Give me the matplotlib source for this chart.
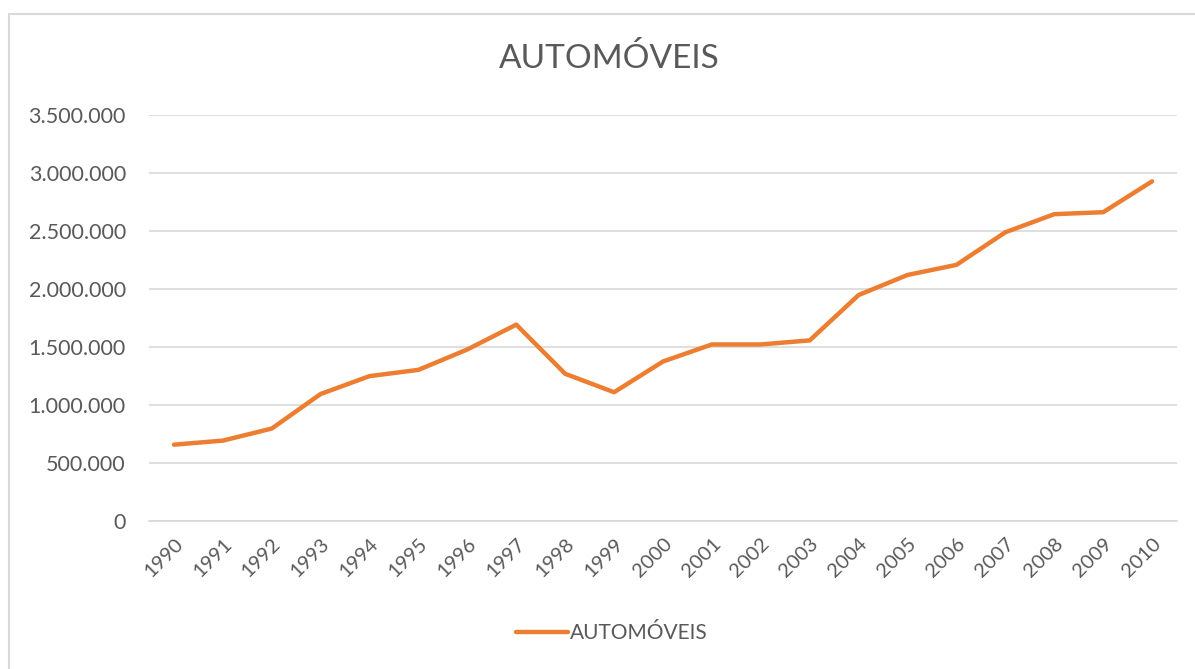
import matplotlib
matplotlib.use("Agg")
import matplotlib.pyplot as plt
from matplotlib.ticker import FuncFormatter
from matplotlib.patches import Rectangle

years = ["1990", "1991", "1992", "1993", "1994", "1995", "1996", "1997", "1998", "1999",
         "2000", "2001", "2002", "2003", "2004", "2005", "2006", "2007", "2008", "2009", "2010"]
automoveis = [658000, 693000, 797000, 1095000, 1249000, 1303000, 1479000, 1693000, 1269000, 1110000,
              1375000, 1522000, 1522000, 1557000, 1948000, 2121000, 2208000, 2489000, 2645000, 2662000, 2928000]
y_ticks = [0, 500000, 1000000, 1500000, 2000000, 2500000, 3000000, 3500000]

plt.rcParams['font.family'] = ['Lato', 'DejaVu Sans']
TEXT = '#595959'
GRID = '#D9D9D9'
ORANGE = '#ED7D31'

fig = plt.figure(figsize=(11.95, 6.69), dpi=100)
ax = fig.add_axes([149.5 / 1195, 1 - 521 / 669, (1176.5 - 149.5) / 1195, (521 - 115) / 669])

x = list(range(len(years)))
line, = ax.plot(x, automoveis, color=ORANGE, linewidth=3.2, solid_joinstyle='round',
                solid_capstyle='round', label='AUTOMÓVEIS')

ax.set_xlim(-0.5, len(years) - 0.5)
ax.set_ylim(0, 3500000)
ax.set_yticks(y_ticks)
ax.yaxis.set_major_formatter(FuncFormatter(lambda v, p: f"{int(v):,}".replace(",", ".")))
ax.grid(axis='y', color=GRID, linewidth=1.2)
ax.set_axisbelow(True)
for s in ['top', 'right', 'left']:
    ax.spines[s].set_visible(False)
ax.spines['bottom'].set_color(GRID)
ax.spines['bottom'].set_linewidth(1.2)
ax.tick_params(axis='both', length=0, colors=TEXT)
ax.tick_params(axis='y', pad=17, labelsize=15.5)
ax.set_xticks(x)
ax.set_xticklabels(years, rotation=45, ha='right', rotation_mode='anchor')
ax.tick_params(axis='x', pad=10, labelsize=14.5)

fig.text(609 / 1195, 1 - 59 / 669, 'AUTOMÓVEIS', ha='center', va='center',
         fontsize=24, color=TEXT)

leg = fig.legend(handles=[line], loc='center', bbox_to_anchor=(612 / 1195, 1 - 633 / 669),
                 frameon=False, fontsize=15, handlelength=2.5, handletextpad=0.1)
for t in leg.get_texts():
    t.set_color(TEXT)

fig.patches.append(Rectangle((9 / 1195, -0.01), 1.02, 1 - 13.5 / 669 + 0.01, transform=fig.transFigure,
                             fill=False, edgecolor=GRID, linewidth=1.5))

fig.savefig('out.png', dpi=100, facecolor='white')
